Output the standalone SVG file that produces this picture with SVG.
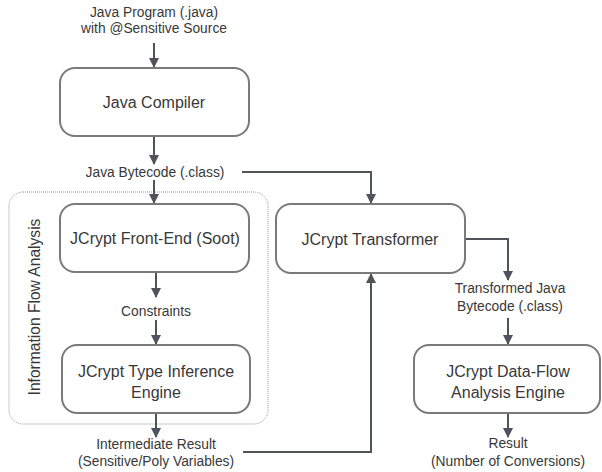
<svg xmlns="http://www.w3.org/2000/svg" width="602" height="472" viewBox="0 0 602 472">
<defs>
<marker id="ah" markerWidth="10" markerHeight="10" refX="9" refY="5" orient="auto" markerUnits="userSpaceOnUse">
<path d="M0,0 L10,5 L0,10 z" fill="#4f545a"/>
</marker>
<style>
.box{fill:#fff;stroke:#7a7a7a;stroke-width:2}
.t{font-family:"Liberation Sans",Arial,sans-serif;fill:#383838;text-anchor:middle}
.big{font-size:16px}
.sm{font-size:13.8px}
.c{fill:none;stroke:#4f545a;stroke-width:2}
</style>
</defs>
<rect width="602" height="472" fill="#fff"/>
<g id="group-ifa">
<rect x="9" y="192" width="259" height="232" rx="14" fill="none" stroke="#999" stroke-width="1" stroke-dasharray="1,1"/>
<text class="t" x="0" y="0" font-size="15.6" transform="translate(40,307) rotate(-90)">Information Flow Analysis</text>
</g>
<g id="connectors">
<line class="c" x1="154" y1="43" x2="154" y2="67" marker-end="url(#ah)"/>
<line class="c" x1="154" y1="137" x2="154" y2="164" marker-end="url(#ah)"/>
<line class="c" x1="154" y1="180" x2="154" y2="203" marker-end="url(#ah)"/>
<polyline class="c" points="242,172 371,172 371,203" marker-end="url(#ah)"/>
<line class="c" x1="156" y1="273" x2="156" y2="297" marker-end="url(#ah)"/>
<line class="c" x1="156" y1="320" x2="156" y2="344" marker-end="url(#ah)"/>
<line class="c" x1="156" y1="414" x2="156" y2="437" marker-end="url(#ah)"/>
<polyline class="c" points="243,452 371,452 371,274" marker-end="url(#ah)"/>
<polyline class="c" points="466,239 508,239 508,280" marker-end="url(#ah)"/>
<line class="c" x1="508" y1="318" x2="508" y2="344" marker-end="url(#ah)"/>
<line class="c" x1="508" y1="414" x2="508" y2="437" marker-end="url(#ah)"/>
</g>
<g id="labels">
<text class="t sm" x="154" y="17">Java Program (.java)</text>
<text class="t sm" x="154" y="33">with @Sensitive Source</text>
<text class="t sm" x="155" y="177">Java Bytecode (.class)</text>
<text class="t sm" x="156" y="316">Constraints</text>
<text class="t sm" x="156" y="449">Intermediate Result</text>
<text class="t sm" x="156" y="466">(Sensitive/Poly Variables)</text>
<text class="t sm" x="510" y="293">Transformed Java</text>
<text class="t sm" x="510" y="311">Bytecode (.class)</text>
<text class="t sm" x="508" y="448">Result</text>
<text class="t sm" x="508" y="466">(Number of Conversions)</text>
</g>
<g id="node-compiler">
<rect class="box" x="60" y="68" width="189" height="68" rx="15"/>
<text class="t big" x="154" y="108">Java Compiler</text>
</g>
<g id="node-frontend">
<rect class="box" x="60" y="204" width="189" height="68" rx="15"/>
<text class="t big" x="155" y="244">JCrypt Front-End (Soot)</text>
</g>
<g id="node-typeinf">
<rect class="box" x="62" y="345" width="188" height="68" rx="15"/>
<text class="t big" x="156" y="377">JCrypt Type Inference</text>
<text class="t big" x="156" y="398">Engine</text>
</g>
<g id="node-transformer">
<rect class="box" x="276" y="204" width="189" height="69" rx="15"/>
<text class="t big" x="370" y="245">JCrypt Transformer</text>
</g>
<g id="node-dataflow">
<rect class="box" x="414" y="345" width="186" height="68" rx="15"/>
<text class="t big" x="508" y="377">JCrypt Data-Flow</text>
<text class="t big" x="508" y="398">Analysis Engine</text>
</g>
</svg>
